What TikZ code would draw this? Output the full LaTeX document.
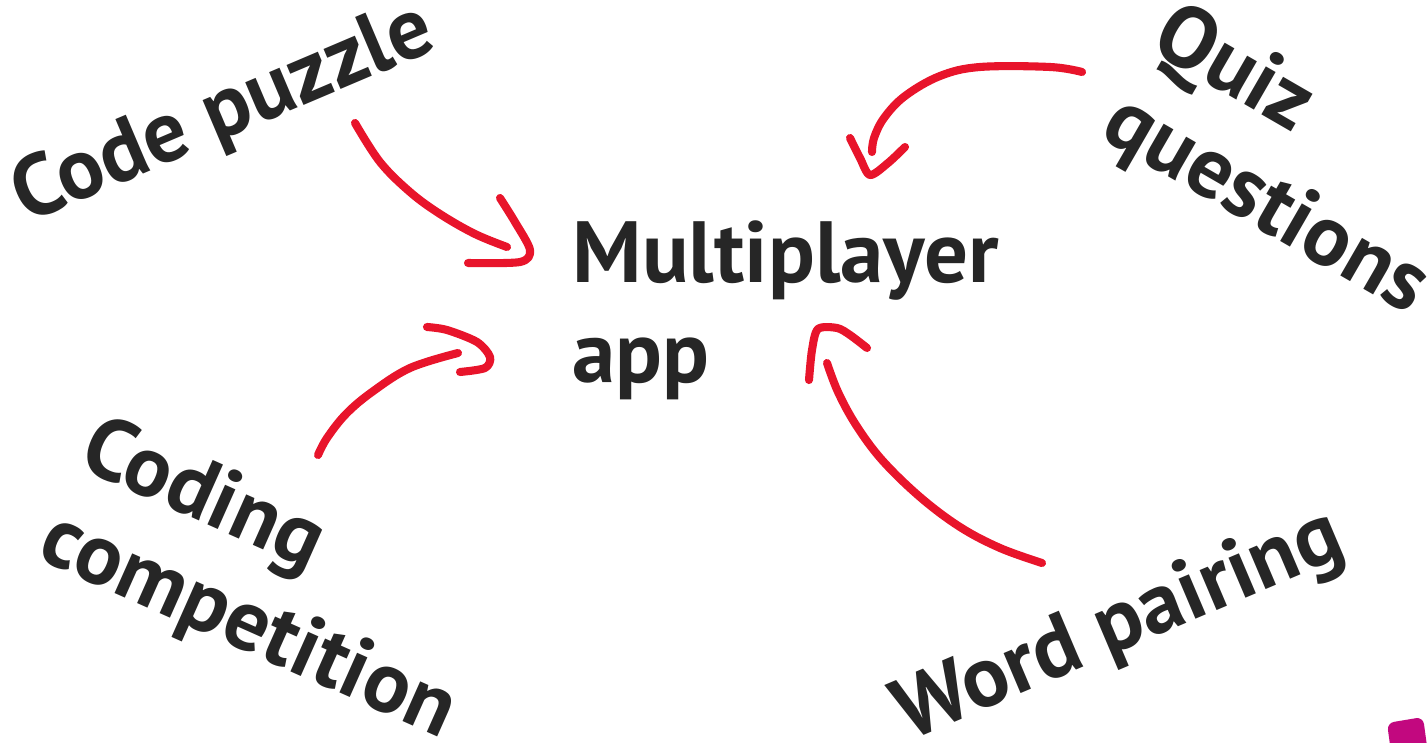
\documentclass[tikz,border=0pt]{standalone}
\usepackage{fontspec}
\setmainfont{PT Sans}
\usepackage{tikz}
\usetikzlibrary{positioning}
\definecolor{tinta}{HTML}{262626}
\definecolor{rojo}{HTML}{E8142B}
\definecolor{fucsia}{HTML}{C2087F}

\begin{document}
\begin{tikzpicture}[x=0.01cm, y=-0.01cm,
    every node/.style={text=tinta, inner sep=0pt, align=left,
      font=\fontsize{24.7}{28.5}\selectfont\bfseries},
    pen/.style={draw=rojo, line width=2.3pt, line cap=round, line join=round}]
  \useasboundingbox (0,0) rectangle (1428,743);

  % Nodos
  \node[anchor=west] (app) at (572,310) {Multiplayer\\app};
  \node[rotate=23] (puzzle) at (224,115) {Code puzzle};
  \node[rotate=-30] (quiz) at (1290,163) {Quiz\\questions};
  \node[rotate=-24] (coding) at (268,582) {Coding\\competition};
  \node[rotate=23] (word) at (1120,628) {Word pairing};

  % Extremos de las flechas
  \coordinate (puzzle-s) at (355,123);
  \coordinate (puzzle-t) at (507,247);
  \coordinate (quiz-s) at (1082,72);
  \coordinate (quiz-t) at (872,152);
  \coordinate (coding-s) at (318,455);
  \coordinate (coding-t) at (458,353);
  \coordinate (word-s) at (1042,563);
  \coordinate (word-t) at (827,363);

  % Flechas
  \draw[pen] plot[smooth, tension=0.6] coordinates {(puzzle-s) (380,162) (410,192) (440,214) (475,234) (puzzle-t)};
  \draw[pen] plot[smooth, tension=0.5] coordinates {(500,198) (515,222) (530,250) (520,262) (468,263)};

  \draw[pen] plot[smooth, tension=0.6] coordinates {(quiz-s) (1050,67) (980,67) (940,76) (905,96) (884,118) (874,138) (quiz-t)};
  \draw[pen] plot[smooth, tension=0.5] coordinates {(850,138) (860,158) (870,175) (888,163) (905,147)};

  \draw[pen] plot[smooth, tension=0.6] coordinates {(coding-s) (327,438) (346,414) (372,392) (410,368) (coding-t)};
  \draw[pen] plot[smooth, tension=0.5] coordinates {(427,327) (447,330) (477,342) (490,357) (485,368) (460,372)};

  \draw[pen] plot[smooth, tension=0.6] coordinates {(word-s) (1000,548) (960,527) (920,497) (882,460) (856,425) (838,392) (word-t)};
  \draw[pen] plot[smooth, tension=0.5] coordinates {(809,380) (812,350) (818,329) (837,328) (850,335) (867,348)};

  % Esquina
  \fill[fucsia, rounded corners=2pt] (1387,723) -- (1423,717) -- (1433,790) -- (1397,796) -- cycle;
\end{tikzpicture}
\end{document}
